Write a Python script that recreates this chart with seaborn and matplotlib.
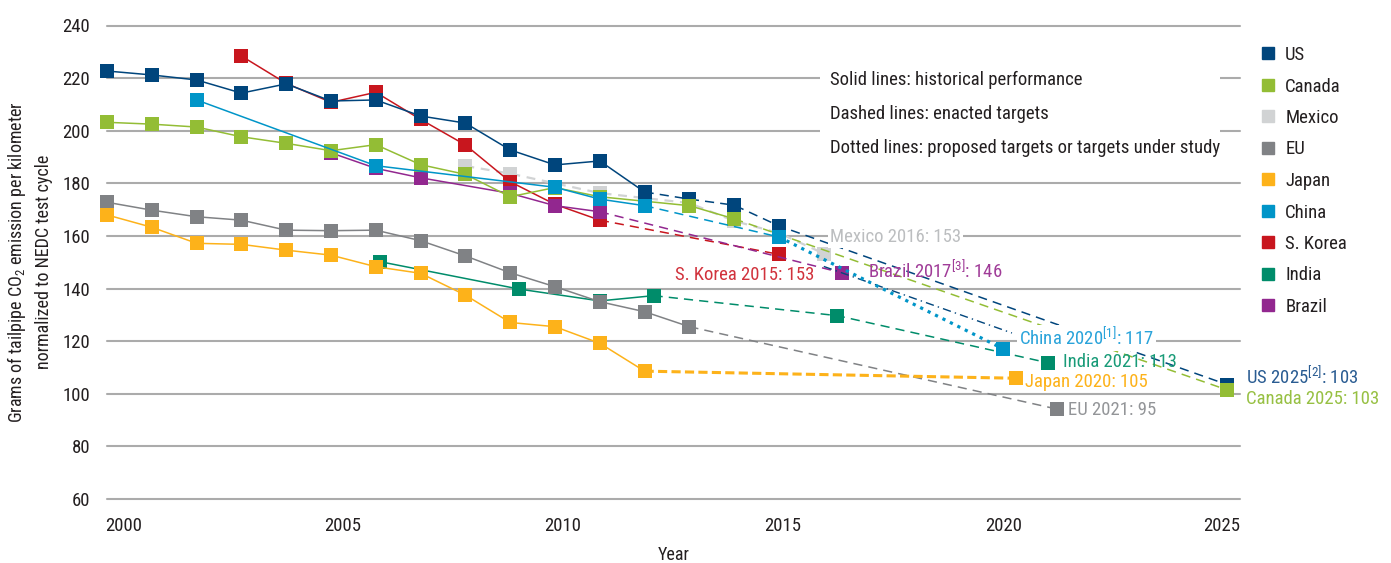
###
# Tailpipe CO2 emissions per km (NEDC) - historical performance and targets by region
###

import matplotlib
matplotlib.use('Agg')
import matplotlib.pyplot as plt
from matplotlib import font_manager
from matplotlib.lines import Line2D
from matplotlib.patches import Rectangle
import seaborn as sns

# ---- data ----
us_hist_year = list(range(2000, 2013))
us_hist_val = [222.7, 221.2, 219.3, 214.3, 217.8, 211.3, 211.7, 205.6, 202.9, 192.7, 187.0, 188.5, 176.7]
us_tgt_year = [2013, 2014, 2015, 2025]
us_tgt_val = [174.0, 171.7, 163.8, 103.5]
# thin dash-dot navy segment visible between 2016 and 2020 (no marker)
us_extra_year = [2016.0, 2020.2]
us_extra_val = [148.4, 123.1]

canada_hist_year = [2000, 2001, 2002, 2003, 2004, 2005, 2006, 2007, 2008, 2009, 2010, 2011, 2013, 2014]
canada_hist_val = [203.2, 202.5, 201.4, 197.7, 195.2, 192.4, 194.7, 187.1, 183.4, 174.9, 178.4, 174.9, 171.5, 166.5]
canada_tgt_year = [2025]
canada_tgt_val = [101.5]

mexico_year = [2008, 2009, 2011, 2013, 2014, 2015, 2016]
mexico_val = [186.6, 183.7, 176.3, 172.5, 165.7, 161.1, 153.3]

eu_hist_year = list(range(2000, 2014))
eu_hist_val = [172.8, 169.8, 167.3, 166.0, 162.2, 162.0, 162.2, 158.2, 152.4, 146.0, 140.7, 135.0, 131.2, 125.5]
eu_tgt_year = [2021.2]
eu_tgt_val = [94.2]

japan_hist_year = list(range(2000, 2013))
japan_hist_val = [168.0, 163.3, 157.2, 156.8, 154.6, 152.7, 148.3, 145.8, 137.5, 127.1, 125.5, 119.2, 108.6]
japan_tgt_year = [2020.3]
japan_tgt_val = [105.9]

china_hist_year = [2002, 2006, 2010, 2011, 2012]
china_hist_val = [211.7, 186.7, 178.5, 174.0, 171.5]
china_tgt_year = [2015]
china_tgt_val = [159.6]
china_prop_year = [2020]
china_prop_val = [117.1]

korea_hist_year = list(range(2003, 2012))
korea_hist_val = [228.4, 218.0, 210.8, 214.6, 204.3, 194.6, 180.6, 172.0, 166.0]
korea_tgt_year = [2015]
korea_tgt_val = [153.0]

india_hist_year = [2006.1, 2009.2, 2011, 2012.2]
india_hist_val = [150.2, 139.8, 135.3, 137.3]
india_tgt_year = [2016.3, 2021.0]
india_tgt_val = [129.7, 111.8]

brazil_hist_year = [2005, 2006, 2007, 2009, 2010, 2011]
brazil_hist_val = [191.6, 185.7, 182.1, 176.2, 171.5, 169.2]
brazil_tgt_year = [2016.4]
brazil_tgt_val = [146.0]

x_tick_labels = ['2000', '2005', '2010', '2015', '2020', '2025']
y_ticks = [60, 80, 100, 120, 140, 160, 180, 200, 220, 240]

colors = {
    'US': '#00457C', 'Canada': '#93BD35', 'Mexico': '#D1D3D4', 'EU': '#808285',
    'Japan': '#FDB21A', 'China': '#0095C8', 'S. Korea': '#C8161E', 'India': '#008C6A',
    'Brazil': '#92278F',
}

# ---- style ----
sns.set_theme(style='white')
names = {f.name for f in font_manager.fontManager.ttflist}
narrow = [n for n in ['Roboto Condensed', 'Liberation Sans Narrow', 'Open Sans Condensed', 'Arial Narrow']
          if n in names]
if narrow:
    base_font, fs = narrow[0], 13.5
else:
    base_font, fs = 'Roboto', 12.8
plt.rcParams['font.family'] = [base_font, 'DejaVu Sans']
plt.rcParams['mathtext.fontset'] = 'custom'
plt.rcParams['mathtext.rm'] = base_font
plt.rcParams['mathtext.it'] = base_font
plt.rcParams['mathtext.bf'] = base_font
text_col = '#231F20'

fig = plt.figure(figsize=(13.91, 5.63), dpi=100)
ax = fig.add_axes([107 / 1391, 64 / 563, 1133 / 1391, 473.5 / 563])
ax.set_xlim(2000, 2025.29)
ax.set_ylim(60, 240)

for v in y_ticks:
    ax.axhline(v, color='#ABABAB', lw=1.5, zorder=1, clip_on=False)


def seg(xs, ys, color, z, ls='-', lw=1.1):
    sns.lineplot(x=xs, y=ys, ax=ax, color=color, linewidth=lw, linestyle=ls,
                 sort=False, estimator=None, zorder=z, clip_on=False)


def marks(xs, ys, color, z):
    sns.scatterplot(x=xs, y=ys, ax=ax, color=color, marker='s', s=105,
                    linewidth=0, zorder=z + 0.5, clip_on=False)


def country(hx, hy, tx, ty, color, z, tls=(0, (6, 4)), tlw=1.1):
    if len(hx) > 1:
        seg(hx, hy, color, z)
    seg([hx[-1]] + tx, [hy[-1]] + ty, color, z, ls=tls, lw=tlw)
    marks(hx + tx, hy + ty, color, z)


# Mexico: dashed throughout
seg(mexico_year, mexico_val, colors['Mexico'], 3, ls=(0, (4, 3)), lw=1.6)
marks(mexico_year, mexico_val, colors['Mexico'], 3)

country(korea_hist_year, korea_hist_val, korea_tgt_year, korea_tgt_val, colors['S. Korea'], 4)
country(brazil_hist_year, brazil_hist_val, brazil_tgt_year, brazil_tgt_val, colors['Brazil'], 5)
country(india_hist_year, india_hist_val, india_tgt_year, india_tgt_val, colors['India'], 6)
country(eu_hist_year, eu_hist_val, eu_tgt_year, eu_tgt_val, colors['EU'], 7)
country(japan_hist_year, japan_hist_val, japan_tgt_year, japan_tgt_val, colors['Japan'], 8,
        tls=(0, (3, 1.4)), tlw=2.2)
country(us_hist_year, us_hist_val, us_tgt_year, us_tgt_val, colors['US'], 9)
seg(us_extra_year, us_extra_val, colors['US'], 9, ls=(0, (6, 3, 1, 3)), lw=1.0)
country(canada_hist_year, canada_hist_val, canada_tgt_year, canada_tgt_val, colors['Canada'], 10)
# China: solid, then dashed, then dotted (proposed)
country(china_hist_year, china_hist_val, china_tgt_year, china_tgt_val, colors['China'], 11)
seg([china_tgt_year[-1]] + china_prop_year, [china_tgt_val[-1]] + china_prop_val,
    colors['China'], 11, ls=(0, (1, 1.6)), lw=2.3)
marks(china_prop_year, china_prop_val, colors['China'], 11)

# ---- line-style note box ----
ax.add_patch(Rectangle((2015.92, 187.0), 8.92, 39.1, facecolor='white', edgecolor='none', zorder=1.5))
for yv, s in [(219.3, 'Solid lines: historical performance'),
              (206.4, 'Dashed lines: enacted targets'),
              (193.4, 'Dotted lines: proposed targets or targets under study')]:
    ax.text(2016.14, yv, s, fontsize=fs, color=text_col, va='center', ha='left', zorder=12)

# ---- end-point labels ----
wbox = dict(facecolor='white', edgecolor='none', pad=1.5)
labels = [
    (2016.14, 159.6, 'Mexico 2016: 153', '#BCBEC0', wbox),
    (2012.68, 145.1, 'S. Korea 2015: 153', '#D1323C', None),
    (2016.99, 146.8, 'Brazil 2017$^{[3]}$: 146', '#A03C98', None),
    (2020.36, 121.1, 'China 2020$^{[1]}$: 117', '#29A3DA', wbox),
    (2021.33, 112.2, 'India 2021: 113', '#199B78', None),
    (2020.49, 104.6, 'Japan 2020: 105', '#FDB21A', None),
    (2021.44, 93.8, 'EU 2021: 95', '#939598', None),
    (2025.42, 106.5, 'US 2025$^{[2]}$: 103', '#2A5C92', None),
    (2025.42, 98.0, 'Canada 2025: 103', '#97C043', None),
]
for xv, yv, s, c, bb in labels:
    ax.text(xv, yv, s, fontsize=fs, color=c, va='center', ha='left', zorder=13,
            bbox=bb, clip_on=False)

# ---- axes ----
# year labels sit slightly off the data grid in the original chart
ax.set_xticks([2000.36, 2005.25, 2010.18, 2015.07, 2020.02, 2024.89])
ax.set_xticklabels(x_tick_labels)
ax.set_yticks(y_ticks)
ax.tick_params(axis='both', length=0, labelsize=fs, colors=text_col)
ax.tick_params(axis='x', pad=13)
ax.tick_params(axis='y', pad=12)
sns.despine(ax=ax, left=True, bottom=True)
ax.grid(False)
ax.set_xlabel('Year', fontsize=fs - 0.5, color=text_col, labelpad=8)
ax.set_ylabel('Grams of tailpipe CO$_2$ emission per kilometer\nnormalized to NEDC test cycle',
              fontsize=fs - 0.5, color=text_col, labelpad=7, linespacing=1.45)

# ---- legend ----
order = ['US', 'Canada', 'Mexico', 'EU', 'Japan', 'China', 'S. Korea', 'India', 'Brazil']
handles = [Line2D([], [], marker='s', linestyle='none', color=colors[k], markersize=8) for k in order]
ax.legend(handles, order, loc='upper left', bbox_to_anchor=(1258 / 1391, 1 - 46 / 563),
          bbox_transform=fig.transFigure, frameon=False, fontsize=fs, handlelength=1.05,
          handletextpad=0.4, labelspacing=0.72, borderpad=0, borderaxespad=0,
          labelcolor=text_col)

plt.savefig('out.png', dpi=100)
plt.close()
